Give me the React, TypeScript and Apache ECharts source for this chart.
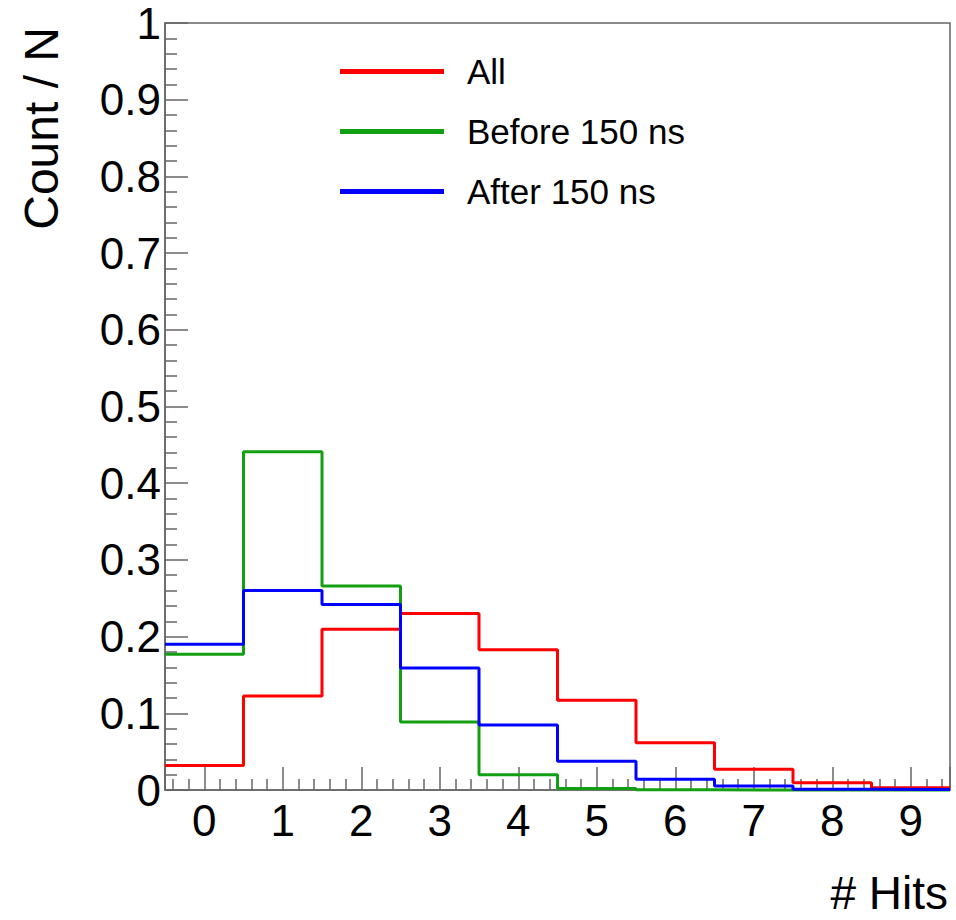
import React, { useEffect, useRef } from "react";
import * as echarts from "echarts";

const binCenters = [0, 1, 2, 3, 4, 5, 6, 7, 8, 9];
const allHits = [0.032, 0.1226, 0.2095, 0.23, 0.183, 0.117, 0.0617, 0.027, 0.0095, 0.003];
const beforeHits = [0.177, 0.441, 0.266, 0.0887, 0.02, 0.002, 0.0004, 0, 0, 0];
const afterHits = [0.19, 0.26, 0.242, 0.159, 0.0847, 0.0374, 0.014, 0.0052, 0.001, 0.0005];
const seriesNames = ["All", "Before 150 ns", "After 150 ns"];
const seriesColors = ["#ff0000", "#12a012", "#0000ff"];
const xTitle = "# Hits";
const yTitle = "Count / N";

const FONT = "'Liberation Sans', Arial, Helvetica, sans-serif";

function toSteps(values: number[]) {
  const pts: [number, number][] = values.map((v, i) => [binCenters[i] - 0.5, v]);
  const last = values.length - 1;
  pts.push([binCenters[last] + 0.5, values[last]]);
  return pts;
}

export default function App() {
  const ref = useRef<HTMLDivElement>(null);
  useEffect(() => {
    if (!ref.current) return;
    const chart = echarts.init(ref.current, null, { renderer: "svg" });
    const datasets = [allHits, beforeHits, afterHits];
    const axisColor = "#666666";
    chart.setOption({
      animation: false,
      backgroundColor: "#ffffff",
      textStyle: { fontFamily: FONT },
      grid: {
        left: 165,
        top: 23,
        right: 6,
        bottom: 130,
        show: true,
        borderColor: axisColor,
        borderWidth: 1.5,
        containLabel: false,
      },
      legend: {
        orient: "vertical",
        left: 340,
        top: 54,
        padding: 0,
        icon: "rect",
        itemWidth: 104,
        itemHeight: 5,
        itemGap: 25,
        data: seriesNames,
        textStyle: {
          fontFamily: FONT,
          fontSize: 35,
          color: "#000",
          padding: [0, 0, 0, 18],
          lineHeight: 35,
        },
      },
      xAxis: {
        type: "value",
        min: -0.5,
        max: 9.5,
        splitNumber: 10,
        splitLine: { show: false },
        axisLine: { show: true, onZero: false, lineStyle: { color: axisColor, width: 1.5 } },
        axisTick: { show: true, inside: true, length: 23, lineStyle: { color: axisColor, width: 1.5 } },
        minorTick: { show: true, splitNumber: 5, length: 11, lineStyle: { color: axisColor, width: 1.5 } },
        axisLabel: {
          showMinLabel: false,
          showMaxLabel: false,
          fontFamily: FONT,
          fontSize: 44,
          color: "#000",
          margin: 8,
          formatter: (v: number) => (Number.isInteger(v) ? String(v) : ""),
        },
      },
      yAxis: {
        type: "value",
        min: 0,
        max: 1,
        interval: 0.1,
        splitLine: { show: false },
        axisLine: { show: true, onZero: false, lineStyle: { color: axisColor, width: 1.5 } },
        axisTick: { show: true, inside: true, length: 23, lineStyle: { color: axisColor, width: 1.5 } },
        minorTick: { show: true, splitNumber: 5, length: 12, lineStyle: { color: axisColor, width: 1.5 } },
        axisLabel: {
          fontFamily: FONT,
          fontSize: 44,
          color: "#000",
          margin: 4,
          formatter: (v: number) => {
            const r = Math.round(v * 10) / 10;
            if (r === 0) return "0";
            if (r === 1) return "1";
            return r.toFixed(1);
          },
        },
      },
      graphic: [
        {
          type: "text",
          x: 41,
          y: 27,
          rotation: Math.PI / 2,
          style: {
            text: yTitle,
            font: `48px ${FONT}`,
            fill: "#000",
            align: "right",
            verticalAlign: "middle",
          },
        },
        {
          type: "text",
          x: 948,
          y: 893,
          style: {
            text: xTitle,
            font: `46px ${FONT}`,
            fill: "#000",
            align: "right",
            verticalAlign: "middle",
          },
        },
      ],
      series: datasets.map((vals, i) => ({
        name: seriesNames[i],
        type: "line",
        step: "end",
        data: toSteps(vals),
        showSymbol: false,
        symbol: "none",
        clip: false,
        color: seriesColors[i],
        itemStyle: { color: seriesColors[i] },
        lineStyle: { color: seriesColors[i], width: 3 },
        z: 3 + i,
      })),
    });
    return () => chart.dispose();
  }, []);
  return (
    <div
      ref={ref}
      style={{ position: "fixed", left: 0, top: 0, width: 956, height: 920, background: "#fff" }}
    />
  );
}
